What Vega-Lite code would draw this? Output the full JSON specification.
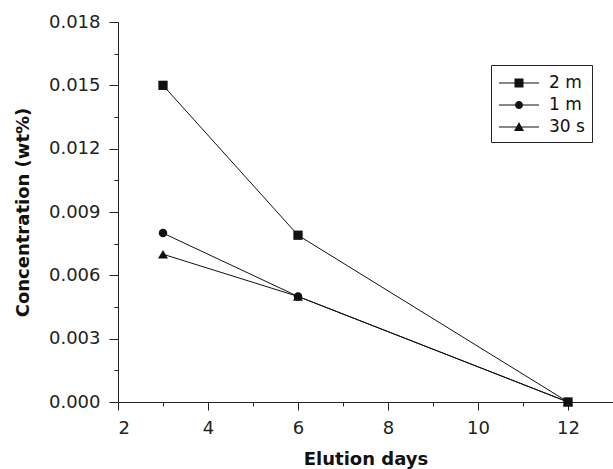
{
  "$schema": "https://vega.github.io/schema/vega-lite/v6.json",
  "autosize": "none",
  "width": 495,
  "height": 380,
  "padding": {"left": 118, "top": 22, "right": 0, "bottom": 67},
  "background": "white",
  "config": {
    "view": {"stroke": null},
    "font": "DejaVu Sans",
    "axis": {
      "domainColor": "#222",
      "tickColor": "#222",
      "labelColor": "#222",
      "titleColor": "#111",
      "labelFont": "DejaVu Sans",
      "titleFont": "DejaVu Sans",
      "labelFontSize": 18,
      "titleFontSize": 18,
      "titleFontWeight": "bold",
      "grid": false
    }
  },
  "data": {
    "values": [
      {"days": 3, "conc": 0.015, "series": "2 m"},
      {"days": 6, "conc": 0.0079, "series": "2 m"},
      {"days": 12, "conc": 0.0, "series": "2 m"},
      {"days": 3, "conc": 0.008, "series": "1 m"},
      {"days": 6, "conc": 0.005, "series": "1 m"},
      {"days": 12, "conc": 0.0, "series": "1 m"},
      {"days": 3, "conc": 0.007, "series": "30 s"},
      {"days": 6, "conc": 0.005, "series": "30 s"},
      {"days": 12, "conc": 0.0, "series": "30 s"}
    ]
  },
  "encoding": {
    "x": {
      "field": "days", "type": "quantitative",
      "scale": {"domain": [2, 13], "nice": false, "zero": false},
      "axis": {
        "title": "Elution days",
        "values": [2, 3, 4, 5, 6, 7, 8, 9, 10, 11, 12],
        "labelExpr": "datum.value % 2 == 0 ? datum.label : ''",
        "tickSize": {"condition": {"test": "datum.value % 2 == 0", "value": 8}, "value": 4},
        "labelPadding": 9,
        "titlePadding": 13
      }
    },
    "y": {
      "field": "conc", "type": "quantitative",
      "scale": {"domain": [0, 0.018], "nice": false},
      "axis": {
        "title": "Concentration (wt%)",
        "values": [0, 0.0015, 0.003, 0.0045, 0.006, 0.0075, 0.009, 0.0105, 0.012, 0.0135, 0.015, 0.0165, 0.018],
        "format": ".3f",
        "labelExpr": "round(datum.value * 2000 / 3) % 2 == 0 ? datum.label : ''",
        "tickSize": {"condition": {"test": "round(datum.value * 2000 / 3) % 2 == 0", "value": 9}, "value": 4},
        "labelPadding": 9,
        "titlePadding": 16
      }
    }
  },
  "layer": [
    {
      "mark": {"type": "line", "color": "#111", "strokeWidth": 1},
      "encoding": {"detail": {"field": "series"}}
    },
    {
      "transform": [{"filter": "datum.series == '2 m'"}],
      "mark": {"type": "point", "shape": "square", "filled": true, "color": "#111", "opacity": 1, "size": 86}
    },
    {
      "transform": [{"filter": "datum.series == '1 m'"}],
      "mark": {"type": "point", "shape": "circle", "filled": true, "color": "#111", "opacity": 1, "size": 72}
    },
    {
      "transform": [{"filter": "datum.series == '30 s'"}],
      "mark": {"type": "point", "shape": "triangle-up", "filled": true, "color": "#111", "opacity": 1, "size": 100}
    },
    {
      "mark": {"type": "point", "filled": true, "fill": "#111", "opacity": 0, "size": 400},
      "encoding": {
        "shape": {
          "field": "series", "type": "nominal",
          "scale": {
            "domain": ["2 m", "1 m", "30 s"],
            "range": [
              "M-1,-0.05H3V0.05H-1ZM0.55,-0.45H1.45V0.45H0.55Z",
              "M-1,-0.05H3V0.05H-1ZM0.6,0A0.4,0.4,0,1,1,1.4,0A0.4,0.4,0,1,1,0.6,0Z",
              "M-1,-0.05H3V0.05H-1ZM1,-0.5L1.5,0.4H0.5Z"
            ]
          },
          "legend": {
            "title": null,
            "orient": "none",
            "legendX": 373,
            "legendY": 43,
            "symbolSize": 400,
            "symbolFillColor": "#111",
            "symbolOpacity": 1,
            "labelFont": "DejaVu Sans",
            "labelFontSize": 17,
            "labelColor": "#111",
            "labelOffset": 29,
            "rowPadding": 3,
            "padding": 7,
            "strokeColor": "#222",
            "fillColor": "white",
            "encode": {
              "symbols": {
                "update": {
                  "fill": {"value": "#111"},
                  "opacity": {"value": 1}
                }
              }
            }
          }
        }
      }
    }
  ]
}
